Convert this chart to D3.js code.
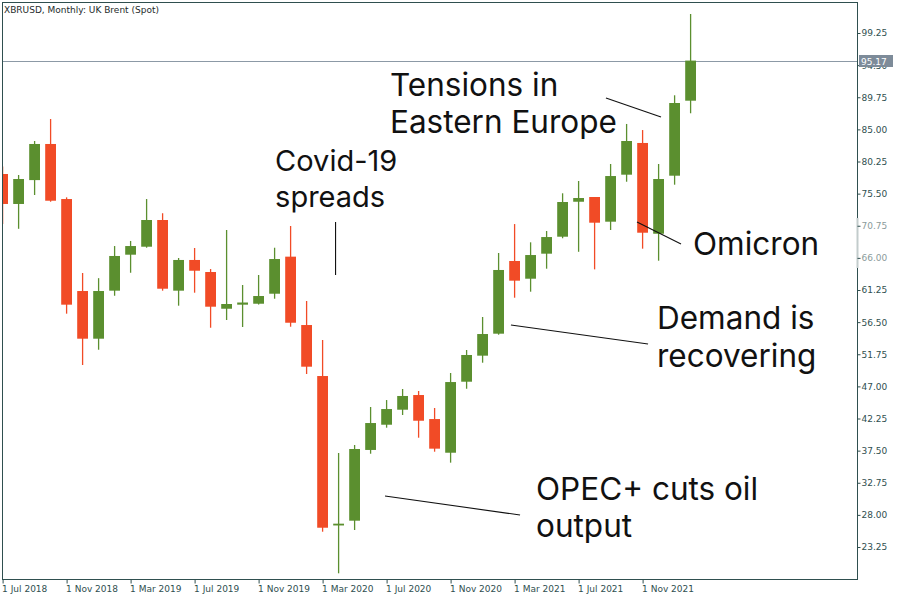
<!DOCTYPE html>
<html>
<head>
<meta charset="utf-8">
<script src="https://cdn.jsdelivr.net/npm/d3@7/dist/d3.min.js"></script>
<style>
  html, body { margin: 0; padding: 0; background: #fff; }
  svg { display: block; }
</style>
</head>
<body>
<svg id="chart" width="900" height="600"></svg>
<script>
// ---- data (monthly UK Brent, Jul 2018 – Feb 2022) ----
const months = ["Jul 2018","Aug 2018","Sep 2018","Oct 2018","Nov 2018","Dec 2018",
  "Jan 2019","Feb 2019","Mar 2019","Apr 2019","May 2019","Jun 2019","Jul 2019","Aug 2019","Sep 2019","Oct 2019","Nov 2019","Dec 2019",
  "Jan 2020","Feb 2020","Mar 2020","Apr 2020","May 2020","Jun 2020","Jul 2020","Aug 2020","Sep 2020","Oct 2020","Nov 2020","Dec 2020",
  "Jan 2021","Feb 2021","Mar 2021","Apr 2021","May 2021","Jun 2021","Jul 2021","Aug 2021","Sep 2021","Oct 2021","Nov 2021","Dec 2021",
  "Jan 2022","Feb 2022"];
const openV  = [78.40,73.97,77.50,82.84,74.70,61.10, 54.05,61.15,66.47,67.65,71.60,61.15,65.69,63.91,58.48,59.08,59.22,60.70,
  66.18,56.07,48.53,26.45,27.14,37.60,41.33,43.55,45.72,42.17,37.19,47.69, 51.54,54.79,65.54,62.92,66.62,69.13,74.30,75.00,71.35,78.30,82.99,69.57, 78.15,89.24];
const highV  = [79.50,78.25,83.28,86.53,74.95,63.76, 63.00,67.75,68.50,74.70,72.60,65.98,67.46,64.35,70.12,61.99,63.47,67.50,
  70.71,59.62,53.86,37.15,38.33,43.95,44.98,46.61,46.32,43.80,48.98,52.38, 57.26,66.72,71.00,68.30,69.97,75.55,77.37,75.00,79.88,85.80,84.90,79.88, 90.04,102.06];
const lowV   = [71.00,70.30,75.30,74.30,57.75,50.16, 52.42,60.40,63.80,67.50,61.15,58.93,60.85,55.67,56.81,55.78,59.10,59.96,
  55.82,48.83,25.51,19.36,25.76,37.04,40.89,42.77,39.41,37.34,35.72,46.65, 50.50,54.64,60.11,61.00,64.40,68.90,66.90,64.30,70.12,77.26,67.36,65.58, 76.82,87.38];
const closeV = [73.97,77.66,82.84,74.45,59.08,54.05, 61.10,66.28,67.75,71.60,61.44,65.69,64.10,58.78,59.18,59.40,60.36,65.83,
  56.41,49.91,26.10,26.70,37.74,41.58,43.65,45.58,41.92,37.79,47.64,51.64, 54.74,64.21,62.63,66.42,69.08,74.26,74.85,71.20,78.10,83.28,69.72,77.66, 88.90,95.17];
const priceTicks = [99.25,94.50,89.75,85.00,80.25,75.50,70.75,66.00,61.25,56.50,51.75,47.00,42.25,37.50,32.75,28.00,23.25];
const timeTicks = ["1 Jul 2018","1 Nov 2018","1 Mar 2019","1 Jul 2019","1 Nov 2019","1 Mar 2020","1 Jul 2020","1 Nov 2020","1 Mar 2021","1 Jul 2021","1 Nov 2021"];
const timeTickIndex = [0,4,8,12,16,20,24,28,32,36,40];
const currentPrice = 95.17;
const title = "XBRUSD, Monthly:  UK Brent (Spot)";
// annotation anchors in (bar index, price) units
const annLines = [["Tensions in","Eastern Europe"],["Covid-19","spreads"],["Omicron"],["Demand is","recovering"],["OPEC+ cuts oil","output"]];
const annFrom  = [[37.71,89.64],[20.81,71.30],[39.65,71.30],[31.77,56.07],[23.90,30.79]];
const annTo    = [[41.15,86.83],[20.81,63.47],[42.40,68.05],[40.34,53.26],[32.34,27.98]];
const annText  = [[24.21,89.93],[17.03,78.89],[43.15,66.42],[40.90,55.44],[33.34,30.20]];

// ---- layout / style ----
const plot = {left:2, top:2, right:857, bottom:579};
const axisColor = "#2f4f4f";
const upColor = "#5b8f2f";
const downColor = "#f14b26";
const annFont = [31.5, 29, 31.5, 31.5, 31.5];
const annLead = [36.7, 36.5, 37, 37.4, 37];

const svg = d3.select("#chart");
const x = d3.scaleLinear().domain([0, 10]).range([2.6, 162.6]);
const y = d3.scaleLinear().domain([23.25, 99.25]).range([547, 33]);

svg.append("defs").append("clipPath").attr("id","plotClip")
  .append("rect").attr("x", plot.left).attr("y", plot.top)
  .attr("width", plot.right - plot.left).attr("height", plot.bottom - plot.top);

const data = months.map((m,i)=>({m, i, o:openV[i], h:highV[i], l:lowV[i], c:closeV[i]}));

const g = svg.append("g").attr("clip-path","url(#plotClip)");

// current price line
g.append("line")
  .attr("x1", plot.left).attr("x2", plot.right)
  .attr("y1", Math.round(y(currentPrice))+0.5).attr("y2", Math.round(y(currentPrice))+0.5)
  .attr("stroke", "#8c99a6").attr("stroke-width", 1);

// candles
const candle = g.selectAll("g.candle").data(data).join("g").attr("class","candle");
candle.append("line")
  .attr("x1", d=>x(d.i)).attr("x2", d=>x(d.i))
  .attr("y1", d=>y(d.h)).attr("y2", d=>y(d.l))
  .attr("stroke", d=> d.c >= d.o ? upColor : downColor)
  .attr("stroke-width", 1.3);
candle.append("rect")
  .attr("x", d=>x(d.i)-5.4).attr("width", 10.8)
  .attr("y", d=>y(Math.max(d.o,d.c)))
  .attr("height", d=>Math.max(1.8, Math.abs(y(d.o)-y(d.c))))
  .attr("fill", d=> d.c >= d.o ? upColor : downColor);

// annotations
const ann = svg.append("g");
annLines.forEach((lines,k)=>{
  ann.append("line")
    .attr("x1", x(annFrom[k][0])).attr("y1", y(annFrom[k][1]))
    .attr("x2", x(annTo[k][0])).attr("y2", y(annTo[k][1]))
    .attr("stroke", "#111").attr("stroke-width", 1.1);
  const tx = x(annText[k][0]);
  const t = ann.append("text")
    .attr("x", tx).attr("y", y(annText[k][1]))
    .attr("font-family", "Inter, 'Noto Sans', sans-serif")
    .attr("font-size", annFont[k]).attr("fill", "#111");
  lines.forEach((ln,j)=>{
    t.append("tspan").attr("x", tx).attr("dy", j===0 ? 0 : annLead[k]).text(ln);
  });
});

// frame
svg.append("rect")
  .attr("x", plot.left+0.5).attr("y", plot.top+0.5)
  .attr("width", plot.right-plot.left).attr("height", plot.bottom-plot.top)
  .attr("fill","none").attr("stroke", axisColor).attr("stroke-width",1);

// light artifact on axis
svg.append("line").attr("x1", plot.right+0.5).attr("x2", plot.right+0.5)
  .attr("y1", 218).attr("y2", 268).attr("stroke", "#c3cccc").attr("stroke-width", 2);

// price axis
const yAxis = d3.axisRight(y).tickValues(priceTicks).tickSize(3).tickPadding(1)
  .tickFormat(d3.format(".2f"));
const ya = svg.append("g").attr("transform", `translate(${plot.right+0.5},0)`).call(yAxis);
ya.select(".domain").remove();
ya.selectAll(".tick line").attr("stroke", axisColor);
ya.selectAll(".tick text")
  .attr("font-family","'DejaVu Sans', sans-serif").attr("font-size", 9)
  .attr("fill", d => (d===70.75||d===66.00) ? "#8b9b9b" : axisColor);

// current price label
const cpY = Math.round(y(currentPrice));
svg.append("rect").attr("x", plot.right+2).attr("y", cpY-6).attr("width", 34).attr("height", 12)
  .attr("fill", "#7d8b99");
svg.append("text").attr("x", plot.right+4).attr("y", cpY+4)
  .attr("font-family","'DejaVu Sans', sans-serif").attr("font-size", 9)
  .attr("fill", "#fff").text(currentPrice.toFixed(2));

// time axis
const xAxis = d3.axisBottom(x).tickValues(timeTickIndex).tickSize(4).tickPadding(2)
  .tickFormat((d,k)=>timeTicks[k]);
const xa = svg.append("g").attr("transform", `translate(0,${plot.bottom+0.5})`).call(xAxis);
xa.select(".domain").remove();
xa.selectAll(".tick line").attr("stroke", axisColor);
xa.selectAll(".tick text")
  .attr("text-anchor","start").attr("x", -1)
  .attr("font-family","'DejaVu Sans', sans-serif").attr("font-size", 9)
  .attr("fill", axisColor);

// title
svg.append("text").attr("x", 4).attr("y", 13)
  .attr("font-family","'DejaVu Sans', sans-serif").attr("font-size", 9)
  .attr("fill", "#1e2b2b").text(title);
</script>
</body>
</html>
